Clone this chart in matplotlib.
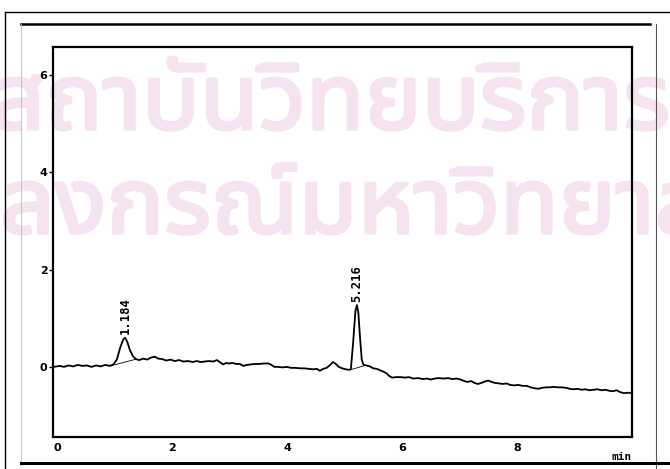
import matplotlib
matplotlib.use("Agg")
import matplotlib.pyplot as plt
from matplotlib import font_manager
from matplotlib.lines import Line2D
import matplotlib.patheffects as pe

# Detector trace (time in min, response)
time_min = [-0.06, 0.05, 0.12, 0.20, 0.28, 0.36, 0.44, 0.52, 0.60, 0.68, 0.76, 0.84, 0.92, 0.98,
            1.04, 1.10, 1.15, 1.184, 1.22, 1.27, 1.32, 1.37, 1.43, 1.50, 1.57, 1.63, 1.70, 1.76,
            1.83, 1.90, 1.97, 2.05, 2.12, 2.20, 2.28, 2.36, 2.43, 2.50, 2.57, 2.64, 2.72, 2.78,
            2.84, 2.89, 2.94, 2.99, 3.05, 3.12, 3.18, 3.24, 3.30, 3.37, 3.44, 3.52, 3.60, 3.68,
            3.73, 3.78, 3.85, 3.92, 4.00, 4.07, 4.15, 4.23, 4.30, 4.38, 4.46, 4.52, 4.57, 4.63,
            4.69, 4.75, 4.80, 4.85, 4.90, 4.96, 5.02, 5.08, 5.11, 5.15, 5.19, 5.216, 5.24, 5.27,
            5.30, 5.33, 5.38, 5.44, 5.50, 5.56, 5.62, 5.68, 5.73, 5.78, 5.83, 5.90, 5.97, 6.05,
            6.12, 6.20, 6.28, 6.36, 6.44, 6.50, 6.57, 6.64, 6.72, 6.80, 6.87, 6.95, 7.02, 7.08,
            7.14, 7.20, 7.26, 7.32, 7.38, 7.44, 7.50, 7.56, 7.62, 7.68, 7.75, 7.82, 7.88, 7.95,
            8.02, 8.10, 8.17, 8.24, 8.31, 8.37, 8.44, 8.50, 8.57, 8.64, 8.71, 8.78, 8.85, 8.92,
            8.98, 9.05, 9.12, 9.19, 9.26, 9.33, 9.40, 9.47, 9.54, 9.60, 9.67, 9.73, 9.80, 9.86,
            9.93, 10.00]
signal = [0.00, 0.02, 0.00, 0.03, 0.01, 0.04, 0.02, 0.03, 0.00, 0.03, 0.01, 0.04, 0.02, 0.05,
          0.15, 0.40, 0.56, 0.60, 0.52, 0.34, 0.22, 0.16, 0.14, 0.17, 0.15, 0.19, 0.21, 0.17,
          0.16, 0.13, 0.15, 0.12, 0.14, 0.11, 0.12, 0.10, 0.12, 0.10, 0.11, 0.12, 0.11, 0.14,
          0.09, 0.05, 0.08, 0.07, 0.08, 0.06, 0.06, 0.02, 0.04, 0.05, 0.06, 0.06, 0.07, 0.07,
          0.04, 0.00, 0.00, -0.01, 0.00, -0.02, -0.02, -0.03, -0.03, -0.04, -0.05, -0.04, -0.08, -0.04,
          -0.02, 0.04, 0.10, 0.06, 0.00, -0.03, -0.05, -0.06, -0.05, 0.50, 1.15, 1.27, 1.12, 0.60,
          0.15, 0.04, 0.03, 0.01, -0.03, -0.04, -0.07, -0.10, -0.13, -0.19, -0.22, -0.21, -0.21, -0.22,
          -0.21, -0.24, -0.23, -0.25, -0.24, -0.26, -0.24, -0.23, -0.24, -0.23, -0.25, -0.24, -0.26, -0.29,
          -0.31, -0.29, -0.33, -0.35, -0.33, -0.30, -0.28, -0.31, -0.33, -0.34, -0.35, -0.34, -0.37, -0.38,
          -0.37, -0.39, -0.39, -0.42, -0.44, -0.45, -0.43, -0.42, -0.42, -0.41, -0.42, -0.42, -0.43, -0.45,
          -0.46, -0.45, -0.47, -0.46, -0.48, -0.47, -0.46, -0.48, -0.47, -0.49, -0.50, -0.48, -0.52, -0.54,
          -0.53, -0.54]

# Integrated peaks: retention time, apex height, baseline start/end (time, value)
peak_rt = [1.184, 5.216]
peak_height = [0.60, 1.27]
peak_labels = ["1.184", "5.216"]
base_start = [(0.96, 0.03), (5.10, -0.06)]
base_end = [(1.38, 0.16), (5.36, 0.03)]

x_ticks = [0, 2, 4, 6, 8]
y_ticks = [0, 2, 4, 6]
x_unit = "min"

watermark_lines = ["สถาบันวิทยบริการ", "จุฬาลงกรณ์มหาวิทยาลัย"]

W, H = 670, 469
fig = plt.figure(figsize=(W / 100, H / 100), dpi=100)
fig.patch.set_facecolor("white")


def fx(px):
    return px / W


def fy(py):
    return 1 - py / H


def thai_family():
    """Pick an installed family that covers Thai, preferring a loopless sans."""
    try:
        from fontTools.ttLib import TTFont
    except Exception:
        return None
    found = []
    seen = set()
    for fe in font_manager.fontManager.ttflist:
        if fe.fname in seen:
            continue
        seen.add(fe.fname)
        try:
            f = TTFont(fe.fname, fontNumber=0, lazy=True)
            cmap = f.getBestCmap()
            if cmap and 0x0E2A in cmap and 0x0E1A in cmap and 0x0E13 in cmap:
                found.append(fe.name)
        except Exception:
            continue
    if not found:
        return None

    def rank(name):
        n = name.lower()
        if "looped" in n:
            return 3
        if "sans thai" in n:
            return 0
        if "sans" in n or "thai" in n:
            return 1
        return 2
    return sorted(set(found), key=rank)[0]


renderer = fig.canvas.get_renderer()


def text_width(s, size, fam):
    t = fig.text(0, 0, s, fontsize=size, family=fam)
    w = t.get_window_extent(renderer).width
    t.remove()
    return w


# faint Thai watermark behind the chart
fam = thai_family()
if fam is not None:
    top_line, bottom_line = watermark_lines
    ref = 60.0
    # size so that the top line, after its first letter, spans x = 45..670 px
    span = text_width(top_line[1:], ref, fam)
    size = max(55.0, min(85.0, ref * 625.0 / span))
    lead_top = text_width(top_line, size, fam) - text_width(top_line[1:], size, fam)
    lead_bot = text_width(bottom_line, size, fam) - text_width(bottom_line[4:], size, fam)
    wm_style = dict(fontsize=size, color="#f6e3f0", family=fam, zorder=-5,
                    ha="left", va="baseline",
                    path_effects=[pe.withStroke(linewidth=2.5, foreground="#f6e3f0")])
    fig.text(fx(45 - lead_top), fy(129), top_line, **wm_style)
    fig.text(fx(0 - lead_bot), fy(233), bottom_line, **wm_style)

# scanned page borders
def hline(y, x0, x1, lw, c="black"):
    fig.add_artist(Line2D([fx(x0), fx(x1)], [fy(y), fy(y)], lw=lw, color=c,
                          transform=fig.transFigure))


def vline(x, y0, y1, lw, c="black"):
    fig.add_artist(Line2D([fx(x), fx(x)], [fy(y0), fy(y1)], lw=lw, color=c,
                          transform=fig.transFigure))


hline(12, 5, 670, 1.0)
vline(5, 12, 469, 1.0)
hline(24, 21, 650, 1.8)
vline(21, 24, 463, 0.6, "#bbbbbb")
vline(656, 24, 469, 0.8, "#555555")
hline(463, 21, 670, 2.2)

# chart axes
left, right, top, bottom = 53, 632, 47, 437
ax = fig.add_axes([fx(left), fy(bottom), fx(right - left), (bottom - top) / H])
ax.patch.set_alpha(0)
ax.set_xlim(-0.07, 10.0)
ax.set_ylim(-1.44, 6.57)
for s in ax.spines.values():
    s.set_linewidth(1.6)

ax.plot(time_min, signal, color="black", lw=1.3, solid_joinstyle="round")
for (x0, y0), (x1, y1) in zip(base_start, base_end):
    ax.plot([x0, x1], [y0, y1], color="black", lw=0.6)

for rt, h, lab in zip(peak_rt, peak_height, peak_labels):
    ax.annotate(lab, (rt, h), xytext=(0, 2.5), textcoords="offset points",
                rotation=90, ha="center", va="bottom", fontsize=8.8,
                fontweight="bold", family="DejaVu Sans Mono")

ax.set_xticks(x_ticks)
ax.set_yticks(y_ticks)
ax.set_xticklabels([str(v) for v in x_ticks])
ax.set_yticklabels([str(v) for v in y_ticks])
ax.tick_params(axis="x", length=0, pad=4, labelsize=8)
ax.tick_params(axis="y", length=3, width=1, pad=1, labelsize=8, direction="out")
for lab in ax.get_xticklabels() + ax.get_yticklabels():
    lab.set_fontweight("bold")

fig.text(fx(622), fy(457), x_unit, ha="center", va="center", fontsize=8,
         fontweight="bold", family="DejaVu Sans Mono")

fig.savefig("out.png", dpi=100)
